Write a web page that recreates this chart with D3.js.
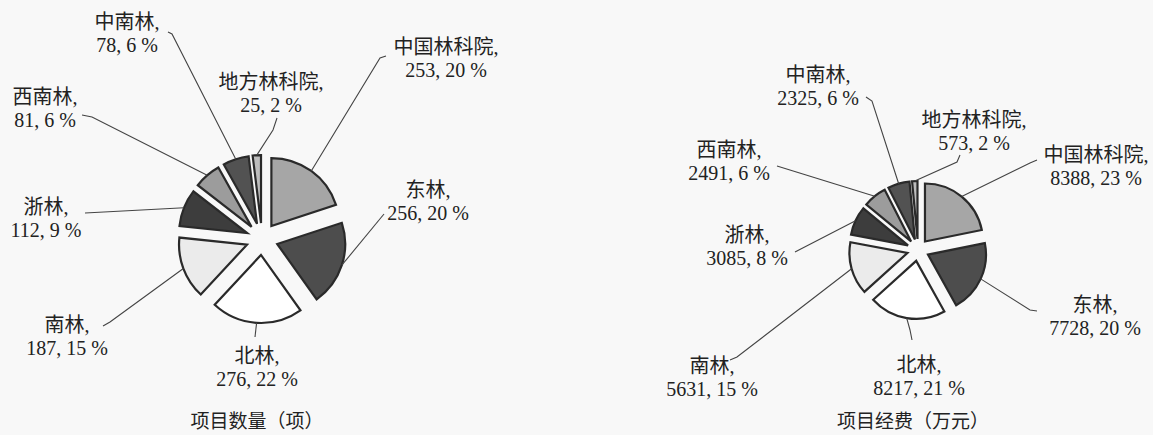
<!DOCTYPE html>
<html lang="zh">
<head>
<meta charset="utf-8">
<title>项目数量与项目经费</title>
<script src="https://cdn.jsdelivr.net/npm/d3@7"></script>
<style>
  body { margin: 0; background: #f8f8f8; }
  text { font-family: "Liberation Serif", "Noto Sans CJK SC", serif; fill: #222; }
</style>
</head>
<body>
<script>
// data
var categories = ["中国林科院", "东林", "北林", "南林", "浙林", "西南林", "中南林", "地方林科院"];
var countValues = [253, 256, 276, 187, 112, 81, 78, 25];
var countPct = ["20 %", "20 %", "22 %", "15 %", "9 %", "6 %", "6 %", "2 %"];
var fundValues = [8388, 7728, 8217, 5631, 3085, 2491, 2325, 573];
var fundPct = ["23 %", "20 %", "21 %", "15 %", "8 %", "6 %", "6 %", "2 %"];
var titles = ["项目数量（项）", "项目经费（万元）"];

var fills = ["#a6a6a6", "#4d4d4d", "#ffffff", "#ebebeb", "#3d3d3d", "#9c9c9c", "#525252", "#bdbdbd"];

var w = 1153, h = 435;
var svg = d3.select("body").append("svg")
    .attr("width", w)
    .attr("height", h);

// label layout: text centre x, first line y, then leader points (from label side toward slice)
var leftLabels = [
  {x: 446, y: 47, pts: [[386, 56], [380, 58]]},
  {x: 428, y: 190, pts: [[384, 214]]},
  {x: 257, y: 356, pts: [[255, 337]]},
  {x: 67, y: 325, pts: [[103, 326], [110, 322]]},
  {x: 46, y: 207, pts: [[85, 213]]},
  {x: 45, y: 97, pts: [[82, 115], [92, 117]]},
  {x: 127, y: 22, pts: [[168, 32], [172, 34]]},
  {x: 271, y: 82, pts: [[277, 118], [273, 130]]}
];
var rightLabels = [
  {x: 1096, y: 155, pts: [[1037, 160], [1030, 163]]},
  {x: 1095, y: 305, pts: [[1037, 311], [1030, 310]]},
  {x: 919, y: 365, pts: [[912, 340], [910, 330]]},
  {x: 712, y: 366, pts: [[730, 360], [737, 357]]},
  {x: 747, y: 235, pts: [[795, 252]]},
  {x: 729, y: 150, pts: [[777, 166]]},
  {x: 818, y: 75, pts: [[866, 97], [872, 101]]},
  {x: 974, y: 120, pts: [[960, 155], [957, 162]]}
];

function drawPie(cx, cy, r, explode, values, pcts, labels, title, titleY) {
  var pie = d3.pie().sort(null).value(function(d) { return d; });
  var arcs = pie(values);
  var arc = d3.arc().innerRadius(0).outerRadius(r);
  var g = svg.append("g").attr("transform", "translate(" + cx + "," + cy + ")");

  function offset(d) {
    var a = (d.startAngle + d.endAngle) / 2;
    return [Math.sin(a) * explode, -Math.cos(a) * explode];
  }

  g.selectAll("path.slice")
    .data(arcs)
    .enter()
    .append("path")
    .attr("class", "slice")
    .attr("d", arc)
    .attr("transform", function(d) { var o = offset(d); return "translate(" + o[0] + "," + o[1] + ")"; })
    .attr("fill", function(d, i) { return fills[i]; })
    .attr("stroke", "#2a2a2a")
    .attr("stroke-width", 2.2)
    .attr("stroke-linejoin", "miter");

  var line = d3.line();
  arcs.forEach(function(d, i) {
    var a = (d.startAngle + d.endAngle) / 2;
    var o = offset(d);
    var px = cx + o[0] + Math.sin(a) * r;
    var py = cy + o[1] - Math.cos(a) * r;
    var L = labels[i];
    var pts = L.pts.slice();
    pts.push([px, py]);
    svg.append("path")
      .attr("d", line(pts))
      .attr("fill", "none")
      .attr("stroke", "#444")
      .attr("stroke-width", 1.1);

    var t = svg.append("text")
      .attr("text-anchor", "middle")
      .attr("font-size", 20);
    t.append("tspan").attr("x", L.x).attr("y", L.y).attr("dy", "0.35em").text(categories[i] + ",");
    t.append("tspan").attr("x", L.x).attr("y", L.y + 23).attr("dy", "0.35em")
      .text(values[i] + ", " + pcts[i]);
  });

  svg.append("text")
    .attr("x", cx - 5)
    .attr("y", titleY)
    .attr("dy", "0.35em")
    .attr("text-anchor", "middle")
    .attr("font-size", 19)
    .style("font-family", "'Noto Sans CJK SC', sans-serif")
    .text(title);
}

drawPie(262, 239, 68, 16, countValues, countPct, leftLabels, titles[0], 421);
drawPie(918, 250, 58, 11, fundValues, fundPct, rightLabels, titles[1], 421);
</script>
</body>
</html>
